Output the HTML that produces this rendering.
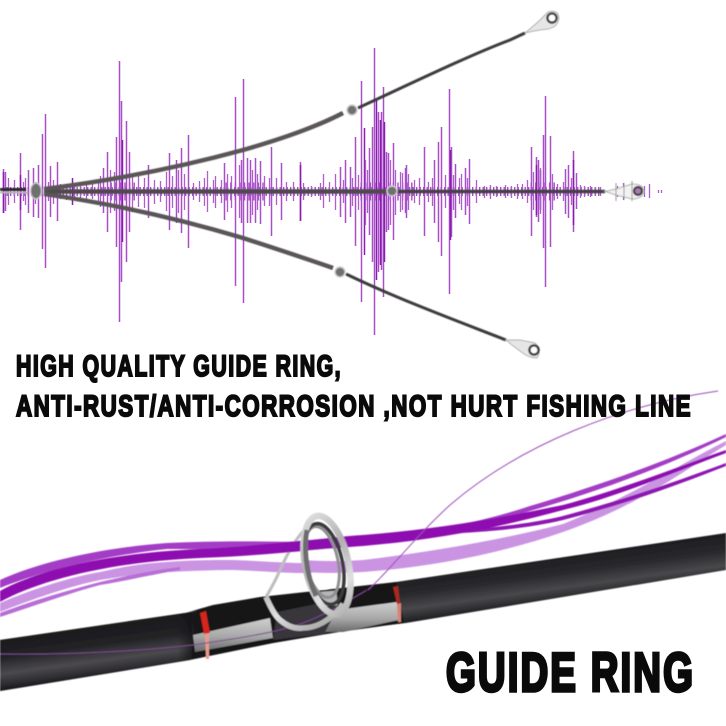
<!DOCTYPE html>
<html><head><meta charset="utf-8"><style>html,body{margin:0;padding:0;background:#fff}svg{display:block}</style></head>
<body>
<svg xmlns="http://www.w3.org/2000/svg" width="726" height="726" viewBox="0 0 726 726">
<defs>
<linearGradient id="rodL" gradientUnits="userSpaceOnUse" x1="90" y1="624" x2="97" y2="676"><stop offset="0" stop-color="#19191c"/><stop offset=".4" stop-color="#222225"/><stop offset=".72" stop-color="#4b494d"/><stop offset=".93" stop-color="#2c2b2e"/><stop offset="1" stop-color="#1d1d20"/></linearGradient>
<linearGradient id="rodR" gradientUnits="userSpaceOnUse" x1="558" y1="556" x2="564" y2="600"><stop offset="0" stop-color="#1d1d20"/><stop offset=".4" stop-color="#2a2a2d"/><stop offset=".72" stop-color="#48484b"/><stop offset="1" stop-color="#222225"/></linearGradient>
<linearGradient id="chrome" x1="0" y1="0" x2="0" y2="1"><stop offset="0" stop-color="#cfcfcf"/><stop offset=".55" stop-color="#a8a8a8"/><stop offset="1" stop-color="#6a6a6a"/></linearGradient>
<linearGradient id="wrap" gradientUnits="userSpaceOnUse" x1="178" y1="0" x2="198" y2="0"><stop offset="0" stop-color="#131315" stop-opacity="0"/><stop offset="1" stop-color="#131315"/></linearGradient>
<linearGradient id="silver" gradientUnits="userSpaceOnUse" x1="300" y1="515" x2="350" y2="620"><stop offset="0" stop-color="#e4e4e4"/><stop offset=".4" stop-color="#b0b0b0"/><stop offset=".7" stop-color="#e0e0e0"/><stop offset="1" stop-color="#a0a0a0"/></linearGradient>
<filter id="soft" x="-5%" y="-5%" width="110%" height="110%"><feGaussianBlur stdDeviation="0.45"/></filter>
<filter id="soft2" x="-5%" y="-5%" width="110%" height="110%"><feGaussianBlur stdDeviation="0.3"/></filter>
</defs>
<rect width="726" height="726" fill="#fff"/>

<g transform="translate(.5 0)" filter="url(#soft2)">
<!-- dense centre band -->
<g fill="none" stroke="#a850c8" stroke-width="9" stroke-dasharray="1.4 2.1">
<path d="M6 191.5H600"/>
</g>
<g fill="none" stroke="#a850c8" stroke-width="18" stroke-dasharray="1.4 3.2">
<path d="M110 191.5H135M225 191.5H265M360 191.5H415M530 191.5H555"/>
</g>
<!-- waveform: tall bars -->
<path fill="none" stroke="#a850c8" stroke-width="1.5" d="M3 169V213M5 172V211M20 153V230M28 170V213M33 168V217M38 165V218M42 134V249M45 114V268M50 166V217M57 162V221M103 168V213M107 152V232M116 137V247M119 61V322M121 101V282M126 121V262M129 152V232M148 165V218M169 153V230M176 160V223M181 148V233M188 135V248M224 163V220M235 97V286M241 160V223M243 79V303M247 158V223M250 160V223M255 158V223M260 161V224M271 147V236M281 163V220M300 162V221M340 167V217M345 160V223M350 167V217M355 137V246M361 81V302M369 148V235M372 127V262M374 48V335M378 112V272M381 112V270M383 87V297M386 152V232M388 153V230M393 143V240M405 168V213M406 165V218M424 147V236M434 160V223M438 142V242M441 127V256M449 89V294M451 147V237M455 164V218M465 168V215M469 159V224M531 147V236M536 157V217M538 160V222M543 135V248M545 96V287M550 136V247M565 169V214M568 165V218M573 151V232M576 173V209"/>
<path fill="none" stroke="#8a1fae" stroke-width="1.5" d="M122 140V242M376 100V280M380 120V265M384 122V262M364 128V255M3 172V213M300 165V221M450 150V240M536 165V215M540 170V210M573 160V225M20 175V210M72 178V205"/>
<!-- waveform: small bars -->
<path fill="none" stroke="#ad5fcc" stroke-width="1.3" d="M8 178V205M14 180V203M23 182V201M25 178V205M35 182V204M48 182V201M53 180V204M60 184V199M66 184V200M74 185V199M80 186V198M86 183V200M92 184V199M98 182V201M100 176V207M110 170V213M114 172V211M132 174V212M138 176V207M144 178V208M154 180V204M160 181V202M166 172V211M172 176V208M178 170V213M184 174V210M193 183V200M199 181V202M204 178V206M207 171V212M213 180V203M215 176V208M221 180V203M227 174V212M231 176V208M239 165V218M252 170V215M257 174V210M264 176V206M269 178V206M276 178V205M286 182V201M293 182V201M303 183V200M311 186V197M320 183V200M323 174V208M329 182V202M335 174V210M343 180V203M352 178V206M358 175V210M365 160V225M367 170V213M390 160V225M395 170V215M400 172V212M402 173V210M408 174V210M414 180V203M419 178V205M428 182V202M432 178V206M445 175V208M453 175V210M459 178V204M461 174V210M467 178V206M476 180V203M484 186V198M490 185V199M496 186V197M505 185V198M511 186V198M517 184V199M522 184V199M527 180V203M533 172V210M540 168V214M552 174V210M557 184V199M563 182V201M571 178V205M580 185V198M584 186V197M590 186V197M595 187V196M600 187V196M617 186V197M623 183V200M631 185V198M644 186V197M649 184V198M658 190V193M661 190V193"/>
</g>

<g filter="url(#soft)">
<!-- middle rod -->
<path d="M44 191.5H392" stroke="#4f4a4e" stroke-width="4.4" fill="none"/>
<path d="M392 191.5H605" stroke="#444044" stroke-width="3.4" fill="none"/>
<path d="M0 189.5H26" stroke="#2a2a2a" stroke-width="3"/><path d="M0 192.5H28" stroke="#b5b5b5" stroke-width="2"/>
<path d="M605 191.5H620" stroke="#bbb" stroke-width="1.5"/>
<!-- top rod -->
<path d="M44 189C100 182 170 170 243 150C285 138 320 125 343 113" stroke="#5a5457" stroke-width="4.4" fill="none"/>
<path d="M358 108C410 84 470 55 510 40L525 33" stroke="#3d3a3c" stroke-width="3" fill="none"/>
<!-- bottom rod -->
<path d="M44 194C100 202 170 216 243 238C280 250 310 260 333 268" stroke="#5a5457" stroke-width="4.4" fill="none"/>
<path d="M346 274C400 300 460 322 506 340" stroke="#3d3a3c" stroke-width="3" fill="none"/>
<!-- small guides -->
<g fill="#6f6f6f" stroke="#cfcfcf" stroke-width="1.4">
<ellipse cx="36" cy="191" rx="5.5" ry="8"/>
<circle cx="352" cy="110" r="5"/>
<circle cx="340" cy="272" r="5"/>
<circle cx="392" cy="191" r="5"/>
</g>
<!-- tip guides -->
<g fill="none">
<path d="M525 33L538 22L548 12Q558 9 559 18Q558 27 548 29Q537 30 525 33Z" fill="#e6e6e6" stroke="#b0b0b0" stroke-width="1"/>
<circle cx="552" cy="18" r="4.6" stroke="#3f3f3f" stroke-width="2.4" fill="#fff"/>
<path d="M506 340L520 340L535 343Q542 350 537 358Q530 358 524 354L512 345Z" fill="#e6e6e6" stroke="#b0b0b0" stroke-width="1"/>
<circle cx="534" cy="350" r="4.6" stroke="#3f3f3f" stroke-width="2.4" fill="#fff"/>
<path d="M605 191.5L616 189L632 184Q644 184 644 192Q642 199 632 199L616 195Z" fill="#f2f2f2" stroke="#b0b0b0" stroke-width="1"/>
<circle cx="638" cy="191" r="4" stroke="#3f3f3f" stroke-width="2.2" fill="#a77ab8"/>
<path d="M616 183V201M624 183V200M632 181V201" stroke="#999" stroke-width="1"/>
</g>

<!-- back ribbons -->
<path d="M0 603C30 590 70 577 100 572C130 565 150 563 167 562C190 560 215 560 233 560C260 561 285 563 300 563C320 563 345 561 363 560C430 552 496 541 563 524C630 497 680 464 726 441L726 445C685 470 640 505 563 532C496 555 430 567 363 572C340 573 320 573 300 573C285 573 260 571 233 570C215 570 190 571 167 572C150 573 130 575 100 580C70 586 30 600 0 612Z" fill="#cb94e2"/>
<path d="M0 580C40 562 100 548 167 543C210 541 250 541 300 542C400 538 470 526 530 506C596 486 663 463 726 434L726 437C663 468 596 492 530 511C470 530 400 545 300 549C250 551 210 549 167 549C100 556 40 572 0 588Z" fill="#a43ec6"/>
<path d="M0 613C40 598 70 590 100 582C130 575 155 570 180 567L180 570C155 574 130 580 100 585C70 593 40 604 0 617Z" fill="#b86ed6"/>
<path d="M440 532C490 528 530 524 563 516C630 498 680 480 726 463L726 466C680 484 630 503 563 520C530 528 490 532 440 534Z" fill="#8e16b2"/>

<!-- rod -->
<path d="M0 640L185 613L396 582L726 533V570L406 623L363 628L273 643L190 660L0 691Z" fill="url(#rodR)"/>
<path d="M0 640L185 613L192 612V659L190 660L0 691Z" fill="url(#rodL)"/>
<path d="M178 614L185 613L213 605L260 597L396 582L404 623L325 634L273 643L195 658L178 662Z" fill="url(#wrap)"/>
<path d="M193 635L270 618L273 638L195 652Z" fill="url(#chrome)"/>
<path d="M273 640L277 612L335 600L340 612L325 634Z" fill="#38343a"/>
<path d="M325 632L337 610L397 602L399 620L343 632Z" fill="url(#chrome)"/>
<path d="M200 613L206 611L210 633L204 634Z" fill="#d4261f"/>
<path d="M205 634L209 633L209 659L206 659Z" fill="#e89a90"/>
<path d="M393 587L398 586L400 603L397 604Z" fill="#a82a22"/>
<path d="M397 604L401 603L401 622L398 622Z" fill="#d98277"/>
<path d="M0 654C70 655 140 651 193 645C240 638 280 632 303 623C325 615 350 600 367 590" stroke="#7a4a90" fill="none" stroke-width="1"/>

<!-- guide frame -->
<path d="M310 525C298 534 288 552 280 570C275 582 270 590 266 597" fill="none" stroke="#bdbdbd" stroke-width="3"/>
<path d="M266 597C270 606 275 616 280 620C288 627 296 629 303 628C315 628 330 622 343 604" fill="none" stroke="url(#silver)" stroke-width="5.5"/>
<path d="M312 592L337 590L338 606L320 607Z" fill="#b6b6b6" stroke="#2a2a2a" stroke-width="1"/>

<!-- ring hole -->
<ellipse cx="320" cy="559" rx="14" ry="31" fill="#fff" transform="rotate(-10 320 559)"/>
<path d="M305 566C316 567 326 567 337 567" stroke="#cb94e2" stroke-width="12" fill="none"/>

<!-- dark band front -->
<path d="M0 591C40 569 110 553 200 549C260 546 320 538 363 535C430 530 490 520 563 505C620 490 680 466 726 450L726 453C680 470 620 496 563 510C490 530 430 540 363 546C320 549 260 556 200 558C110 562 40 580 0 602Z" fill="#8e10b0"/>

<!-- ring -->
<ellipse cx="322" cy="562" rx="16" ry="36" fill="none" stroke="#8f8f91" stroke-width="3" transform="rotate(-12 322 562)"/>
<ellipse cx="324" cy="564" rx="18.5" ry="41" fill="none" stroke="#3b3b3d" stroke-width="3.5" transform="rotate(-12 324 564)"/>
<ellipse cx="327" cy="565" rx="21.5" ry="50" fill="none" stroke="url(#silver)" stroke-width="6.5" transform="rotate(-12 327 565)"/>
<path d="M307 530C304 545 305 572 316 596" stroke="#6d6d6f" stroke-width="5" fill="none"/>

<!-- thin line -->
<path d="M718 391C620 405 520 445 450 505C415 537 390 570 368 590" stroke="#9a4db8" fill="none" stroke-width="1"/>
</g>

<!-- text -->
<g font-family="'Liberation Sans',sans-serif" font-weight="700" fill="#0a0a0a" stroke="#0a0a0a">
<text x="16" y="376" font-size="30" stroke-width="2" letter-spacing="2" textLength="326" lengthAdjust="spacingAndGlyphs">HIGH QUALITY GUIDE RING,</text>
<text x="16" y="416" font-size="30" stroke-width="2" letter-spacing="2" textLength="676" lengthAdjust="spacingAndGlyphs">ANTI-RUST/ANTI-CORROSION ,NOT HURT FISHING LINE</text>
<text x="446" y="691" font-size="55" stroke-width="3.4" letter-spacing="3" textLength="249" lengthAdjust="spacingAndGlyphs">GUIDE RING</text>
</g>
</svg>
</body></html>
